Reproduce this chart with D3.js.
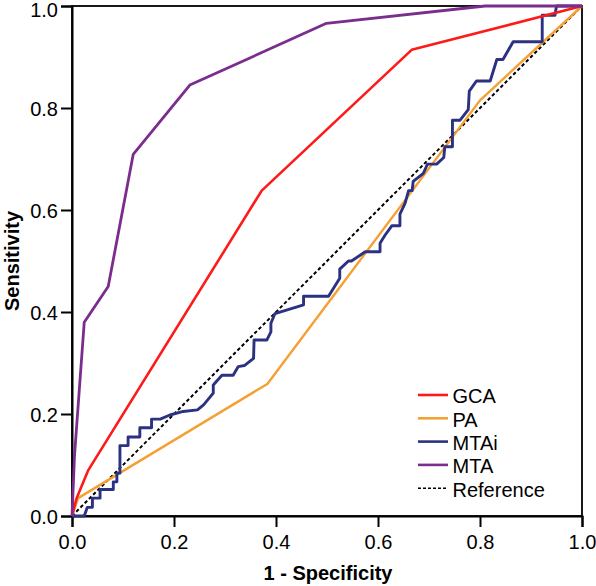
<!DOCTYPE html>
<html><head><meta charset="utf-8">
<script src="https://cdn.jsdelivr.net/npm/d3@7"></script>
<style>
html,body{margin:0;padding:0;background:#fff;}
svg text{font-family:"Liberation Sans",Arial,Helvetica,sans-serif;}
</style></head>
<body><svg id="c" width="596" height="586"></svg>
<script>
const xTicks = [0.0, 0.2, 0.4, 0.6, 0.8, 1.0];
const yTicks = [0.0, 0.2, 0.4, 0.6, 0.8, 1.0];
const seriesNames = ["GCA", "PA", "MTAi", "MTA", "Reference"];
const seriesColors = ["#ff1a1a", "#f5a033", "#2b3282", "#7a2d8c", "#000000"];

const gcaFpr = [0, 0.009, 0.032, 0.372, 0.666, 1.0];
const gcaTpr = [0, 0.035, 0.090, 0.638, 0.914, 1.0];

const paFpr = [0, 0.012, 0.383, 0.800, 1.0];
const paTpr = [0, 0.035, 0.259, 0.815, 1.0];

const mtaFpr = [0, 0.005, 0.024, 0.071, 0.120, 0.231, 0.499, 0.810, 1.0];
const mtaTpr = [0, 0.120, 0.380, 0.450, 0.709, 0.845, 0.966, 1.0, 1.0];

const mtaiFpr = [0,0.024,0.030,0.040,0.040,0.055,0.055,0.081,0.081,0.088,0.088,0.094,0.094,0.110,0.110,0.133,0.133,0.156,0.156,0.173,0.192,0.218,0.246,0.258,0.277,0.277,0.294,0.316,0.326,0.338,0.356,0.357,0.382,0.390,0.390,0.398,0.454,0.454,0.503,0.525,0.525,0.542,0.548,0.575,0.604,0.604,0.614,0.627,0.643,0.643,0.653,0.660,0.667,0.669,0.689,0.697,0.715,0.729,0.731,0.746,0.746,0.761,0.777,0.779,0.793,0.820,0.833,0.845,0.865,0.922,0.922,0.947,0.950,1.0];
const mtaiTpr = [0,0,0.017,0.017,0.035,0.035,0.052,0.052,0.067,0.067,0.084,0.084,0.138,0.138,0.155,0.155,0.173,0.173,0.190,0.190,0.198,0.205,0.208,0.218,0.241,0.257,0.276,0.276,0.293,0.295,0.309,0.345,0.345,0.361,0.378,0.397,0.414,0.431,0.431,0.466,0.484,0.500,0.500,0.518,0.518,0.535,0.551,0.569,0.569,0.592,0.613,0.638,0.638,0.656,0.672,0.690,0.690,0.703,0.724,0.724,0.776,0.776,0.797,0.833,0.853,0.853,0.895,0.895,0.930,0.930,0.982,0.982,1.0,1.0];

const refFpr = [0, 1];
const refTpr = [0, 1];

const L = 72, R = 582, T = 6, B = 516;
const svg = d3.select("#c");
const x = d3.scaleLinear().domain([0,1]).range([L,R]);
const y = d3.scaleLinear().domain([0,1]).range([B,T]);

// frame
svg.append("rect").attr("x",L).attr("y",T).attr("width",R-L).attr("height",B-T)
  .attr("fill","none").attr("stroke","#000").attr("stroke-width",1.8);

const fmt = d3.format(".1f");
const xa = svg.append("g").attr("transform",`translate(0,${B})`)
  .call(d3.axisBottom(x).tickValues(xTicks).tickFormat(fmt).tickSize(11).tickPadding(8));
const ya = svg.append("g").attr("transform",`translate(${L},0)`)
  .call(d3.axisLeft(y).tickValues(yTicks).tickFormat(fmt).tickSize(11).tickPadding(3));
[xa,ya].forEach(a=>{
  a.select(".domain").attr("stroke","#000").attr("stroke-width",2);
  a.selectAll(".tick line").attr("stroke","#000").attr("stroke-width",2);
  a.selectAll(".tick text").attr("font-size",20).attr("fill","#000")
    .style("font-family","'Liberation Sans',Arial,sans-serif");
});
ya.selectAll(".tick text").attr("dy", d => d === 1 ? "0.5em" : "0.36em");

const line = d3.line().x(d=>x(d[0])).y(d=>y(d[1]));
const zip = (a,b)=>a.map((v,i)=>[v,b[i]]);

const data = {
  GCA: zip(gcaFpr,gcaTpr),
  PA: zip(paFpr,paTpr),
  MTAi: zip(mtaiFpr,mtaiTpr),
  MTA: zip(mtaFpr,mtaTpr),
  Reference: zip(refFpr,refTpr)
};
const widths = {GCA:2.6, PA:2.4, MTAi:2.9, MTA:2.8, Reference:2};
const drawOrder = ["Reference","PA","MTAi","GCA","MTA"];
drawOrder.forEach(n=>{
  const i = seriesNames.indexOf(n);
  svg.append("path").datum(data[n]).attr("d",line)
    .attr("fill","none").attr("stroke",seriesColors[i])
    .attr("stroke-width",widths[n]).attr("stroke-linejoin","round")
    .attr("stroke-dasharray", n==="Reference" ? "3.5,2.5" : null);
});

// legend
const lg = svg.append("g");
seriesNames.forEach((n,i)=>{
  const yy = 395 + i*23.3;
  lg.append("line").attr("x1",418).attr("x2",448).attr("y1",yy).attr("y2",yy)
    .attr("stroke",seriesColors[i]).attr("stroke-width", n==="Reference"?1.6:2.6)
    .attr("stroke-dasharray", n==="Reference" ? "3,2" : null);
  lg.append("text").attr("x",452.5).attr("y",yy).attr("dy","0.42em")
    .attr("font-size",20).attr("fill","#000").text(n);
});

// axis titles
svg.append("text").attr("x",328).attr("y",580).attr("text-anchor","middle")
  .attr("font-size",20).attr("font-weight","bold").text("1 - Specificity");
svg.append("text").attr("transform",`translate(18.5,${(T+B)/2}) rotate(-90)`)
  .attr("text-anchor","middle").attr("font-size",20).attr("font-weight","bold").text("Sensitivity");
</script></body></html>
